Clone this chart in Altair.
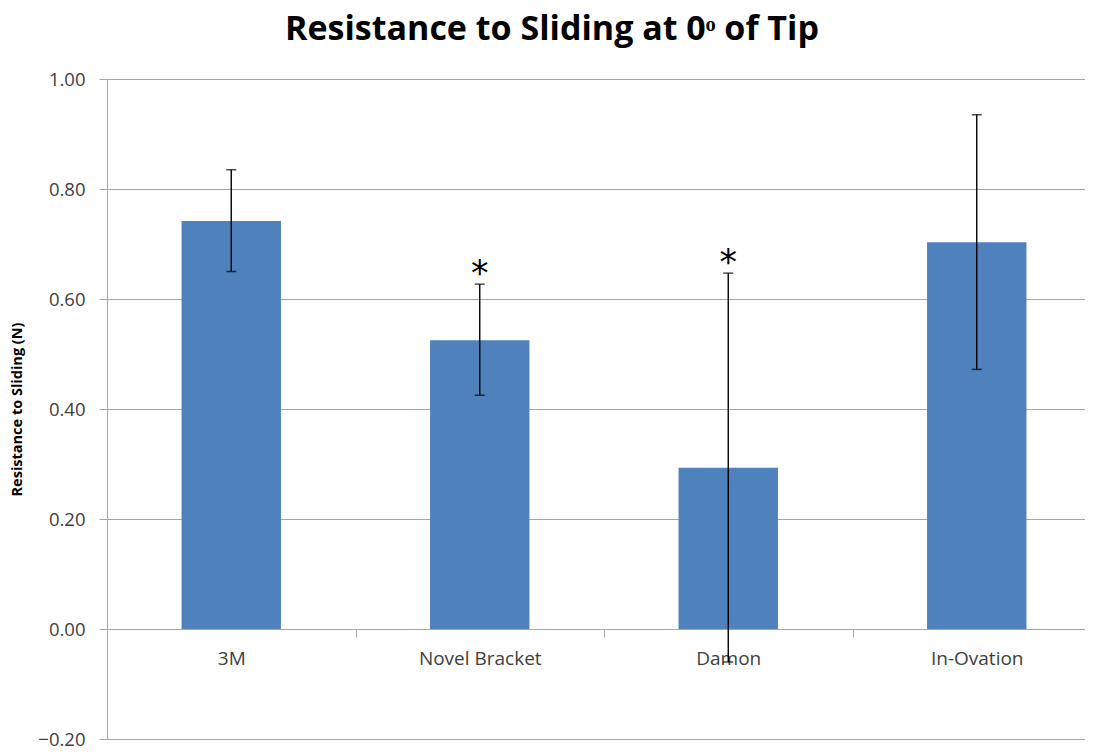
import altair as alt
import pandas as pd

categories = ["3M", "Novel Bracket", "Damon", "In-Ovation"]
means = [0.742, 0.525, 0.293, 0.703]
err_low = [0.650, 0.425, -0.060, 0.472]
err_high = [0.835, 0.627, 0.647, 0.935]
marks = ["", "*", "*", ""]
y_ticks = [-0.2, 0, 0.2, 0.4, 0.6, 0.8, 1.0]

df = pd.DataFrame({
    "cat": categories, "mean": means, "lo": err_low, "hi": err_high, "mark": marks
})

x_scale = alt.Scale(paddingInner=0, paddingOuter=0, range=[0, 994])
x = alt.X("cat:N", sort=categories, title=None, scale=x_scale,
          axis=alt.Axis(offset=-110, tickBand="extent", labelAngle=0,
                        domainColor="#a6a6a6", tickColor="#a6a6a6", tickSize=8,
                        labelFont="Open Sans", labelFontSize=19, labelColor="#404040",
                        labelPadding=12, grid=False))

y_scale = alt.Scale(domain=[-0.2, 1.0], nice=False)

bars = alt.Chart(df).mark_bar(color="#4f81bd", width=alt.RelativeBandSize(0.4)).encode(
    x=x,
    y=alt.Y("mean:Q", scale=y_scale, title="Resistance to Sliding (N)",
            axis=alt.Axis(values=y_ticks, format=".2f",
                          grid=True, gridColor="#a6a6a6", domainColor="#a6a6a6",
                          tickColor="#a6a6a6", tickSize=8, labelPadding=14,
                          labelFont="Open Sans", labelFontSize=18.5, labelColor="#404040",
                          titleFont="Open Sans", titleFontSize=14.5, titleFontWeight="bold",
                          titleColor="#000000", titlePadding=13)),
)

rules = alt.Chart(df).mark_rule(color="#000000", strokeWidth=1.4).encode(
    x=alt.X("cat:N", sort=categories),
    y=alt.Y("lo:Q", scale=y_scale),
    y2="hi:Q",
)

caps_hi = alt.Chart(df).mark_tick(color="#000000", size=10, thickness=1.5, orient="horizontal").encode(
    x=alt.X("cat:N", sort=categories),
    y=alt.Y("hi:Q", scale=y_scale),
)
caps_lo = alt.Chart(df).mark_tick(color="#000000", size=10, thickness=1.5, orient="horizontal").encode(
    x=alt.X("cat:N", sort=categories),
    y=alt.Y("lo:Q", scale=y_scale),
)

stars = alt.Chart(df).mark_text(font="DejaVu Sans", fontSize=35, color="#000000",
                                baseline="middle", dy=-10).encode(
    x=alt.X("cat:N", sort=categories),
    y=alt.Y("hi:Q", scale=y_scale),
    text="mark:N",
)

chart = alt.layer(bars, rules, caps_hi, caps_lo, stars).properties(
    width=978, height=660,
    autosize=alt.AutoSizeParams(type="none"),
    padding={"left": 99, "top": 71, "right": 0, "bottom": 12},
    title=alt.TitleParams("Resistance to Sliding at 0ᵒ of Tip", font="Open Sans",
                          fontSize=34, fontWeight="bold", color="#000000",
                          anchor="middle", dx=-44, offset=23),
).configure_view(stroke=None).configure_axis(domainWidth=1, gridWidth=1)

chart.save("out.html", embed_options={"renderer": "svg", "actions": False})
